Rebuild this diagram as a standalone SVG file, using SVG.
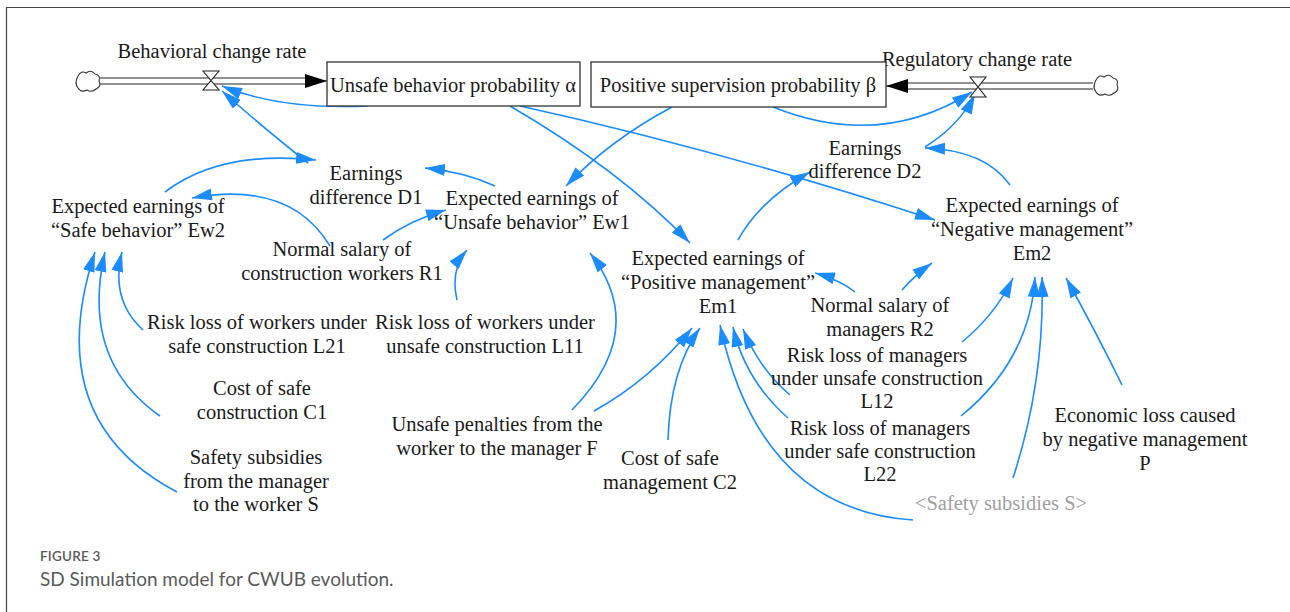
<svg xmlns="http://www.w3.org/2000/svg" width="1290" height="612" viewBox="0 0 1290 612">
<defs>
<style>
.t{font-family:"Liberation Serif","Times New Roman",serif;font-size:20.5px;fill:#1a1a1a;text-anchor:middle}
.g{fill:#a0a0a0}
.c{fill:none;stroke:#1a8cff;stroke-width:1.6;marker-end:url(#a)}
.box{fill:#fff;stroke:#333;stroke-width:1.3}
.pipe{fill:none;stroke:#222;stroke-width:1.2}
.cap{font-family:Lato,"Open Sans",sans-serif;fill:#5a5a5a}
</style>
<marker id="a" viewBox="0 0 20 12" refX="20" refY="6" markerWidth="20" markerHeight="12" markerUnits="userSpaceOnUse" orient="auto">
<path d="M0,0 L20,6 L0,12 z" fill="#1a8cff"/>
</marker>
<marker id="b" viewBox="0 0 22 14" refX="22" refY="7" markerWidth="22" markerHeight="14" markerUnits="userSpaceOnUse" orient="auto">
<path d="M0,0 L22,7 L0,14 z" fill="#000"/>
</marker>
</defs>
<rect width="1290" height="612" fill="#fff"/>
<path d="M6.5 612 V7.5 H1290" fill="none" stroke="#444" stroke-width="1.2"/>

<g id="connectors">
<path class="c" d="M368 106 Q280 110 222 86"/>
<path class="c" d="M308 163 Q260 125 222 91"/>
<path class="c" d="M165 192 Q220 150 316 160"/>
<path class="c" d="M495 186 Q465 172 425 168"/>
<path class="c" d="M330 246 Q290 180 192 198"/>
<path class="c" d="M383 240 Q410 220 446 210"/>
<path class="c" d="M672 107 Q610 140 566 186"/>
<path class="c" d="M510 106 Q620 170 690 243"/>
<path class="c" d="M520 106 Q720 150 935 220"/>
<path class="c" d="M773 107 Q880 150 972 92"/>
<path class="c" d="M925 147 Q960 125 975 94"/>
<path class="c" d="M1010 185 Q985 150 925 148"/>
<path class="c" d="M738 240 Q760 200 810 172"/>
<path class="c" d="M855 292 Q840 280 815 273"/>
<path class="c" d="M902 290 Q915 275 932 263"/>
<path class="c" d="M143 330 Q110 300 122 252"/>
<path class="c" d="M160 416 Q80 360 105 252"/>
<path class="c" d="M177 492 Q40 420 95 252"/>
<path class="c" d="M457 300 Q450 270 467 250"/>
<path class="c" d="M572 410 Q650 330 590 253"/>
<path class="c" d="M594 411 Q650 380 692 328"/>
<path class="c" d="M668 440 Q670 370 700 328"/>
<path class="c" d="M913 520 Q760 510 720 325"/>
<path class="c" d="M788 418 Q745 380 733 327"/>
<path class="c" d="M790 395 Q760 370 743 329"/>
<path class="c" d="M962 342 Q995 315 1013 278"/>
<path class="c" d="M961 416 Q1030 360 1035 277"/>
<path class="c" d="M1013 478 Q1045 380 1042 277"/>
<path class="c" d="M1122 385 Q1095 330 1066 278"/>
</g>

<g id="flow-left">
<path class="pipe" d="M100 78 H305 M100 84 H305"/>
<path d="M305 81 L327 81" stroke="#000" stroke-width="1" marker-end="url(#b)"/>
<path d="M78 76 q3 -6 8 -3 q5 -4 9 1 q6 1 4 7 q3 5 -3 8 q-4 4 -9 1 q-6 3 -9 -2 q-4 -5 0 -12z" fill="#fff" stroke="#333" stroke-width="1.1"/>
<path d="M203 71 H219 L203 90 H219 Z" fill="#fff" stroke="#222" stroke-width="1.1"/>
</g>
<g id="flow-right">
<path class="pipe" d="M906 83 H1093 M906 89 H1093"/>
<path d="M906 86 L886 86" stroke="#000" stroke-width="1" marker-end="url(#b)"/>
<path d="M1096 80 q3 -6 8 -3 q5 -4 9 1 q6 1 4 7 q3 5 -3 8 q-4 4 -9 1 q-6 3 -9 -2 q-4 -5 0 -12z" fill="#fff" stroke="#333" stroke-width="1.1"/>
<path d="M970 77 H986 L970 97 H986 Z" fill="#fff" stroke="#222" stroke-width="1.1"/>
</g>

<g id="behavioral-change-rate"><text class="t" x="212" y="58">Behavioral change rate</text></g>
<g id="regulatory-change-rate"><text class="t" x="977" y="66">Regulatory change rate</text></g>
<g id="unsafe-behavior-probability"><rect class="box" x="327" y="62" width="253" height="44"/><text class="t" x="453" y="92">Unsafe behavior probability α</text></g>
<g id="positive-supervision-probability"><rect class="box" x="591" y="62" width="295" height="45"/><text class="t" x="738" y="92">Positive supervision probability β</text></g>

<g id="d1"><text class="t" x="366" y="180">Earnings</text><text class="t" x="366" y="204">difference D1</text></g>
<g id="ew2"><text class="t" x="138" y="213">Expected earnings of</text><text class="t" x="138" y="237">“Safe behavior” Ew2</text></g>
<g id="ew1"><text class="t" x="532" y="205">Expected earnings of</text><text class="t" x="532" y="229">“Unsafe behavior” Ew1</text></g>
<g id="r1"><text class="t" x="342" y="256">Normal salary of</text><text class="t" x="342" y="280">construction workers R1</text></g>
<g id="d2"><text class="t" x="865" y="155">Earnings</text><text class="t" x="865" y="178">difference D2</text></g>
<g id="em2"><text class="t" x="1032" y="212">Expected earnings of</text><text class="t" x="1032" y="236">“Negative management”</text><text class="t" x="1032" y="260">Em2</text></g>
<g id="em1"><text class="t" x="718" y="265">Expected earnings of</text><text class="t" x="718" y="289">“Positive management”</text><text class="t" x="718" y="313">Em1</text></g>
<g id="r2"><text class="t" x="880" y="312">Normal salary of</text><text class="t" x="880" y="336">managers R2</text></g>
<g id="l21"><text class="t" x="257" y="329">Risk loss of workers under</text><text class="t" x="257" y="353">safe construction L21</text></g>
<g id="l11"><text class="t" x="485" y="329">Risk loss of workers under</text><text class="t" x="485" y="353">unsafe construction L11</text></g>
<g id="l12"><text class="t" x="877" y="362">Risk loss of managers</text><text class="t" x="877" y="385">under unsafe construction</text><text class="t" x="877" y="408">L12</text></g>
<g id="c1"><text class="t" x="262" y="395">Cost of safe</text><text class="t" x="262" y="419">construction C1</text></g>
<g id="f"><text class="t" x="497" y="431">Unsafe penalties from the</text><text class="t" x="497" y="455">worker to the manager F</text></g>
<g id="l22"><text class="t" x="880" y="435">Risk loss of managers</text><text class="t" x="880" y="458">under safe construction</text><text class="t" x="880" y="481">L22</text></g>
<g id="p"><text class="t" x="1145" y="422">Economic loss caused</text><text class="t" x="1145" y="446">by negative management</text><text class="t" x="1145" y="470">P</text></g>
<g id="c2"><text class="t" x="670" y="465">Cost of safe</text><text class="t" x="670" y="489">management C2</text></g>
<g id="s"><text class="t" x="256" y="464">Safety subsidies</text><text class="t" x="256" y="488">from the manager</text><text class="t" x="256" y="511">to the worker S</text></g>
<g id="shadow-s"><text class="t g" x="1001" y="510">&lt;Safety subsidies S&gt;</text></g>

<g id="caption">
<text class="cap" x="40" y="561" font-size="13.5" font-weight="600" letter-spacing="0.2">FIGURE 3</text>
<text class="cap" x="40" y="586" font-size="19">SD Simulation model for CWUB evolution.</text>
</g>
</svg>
